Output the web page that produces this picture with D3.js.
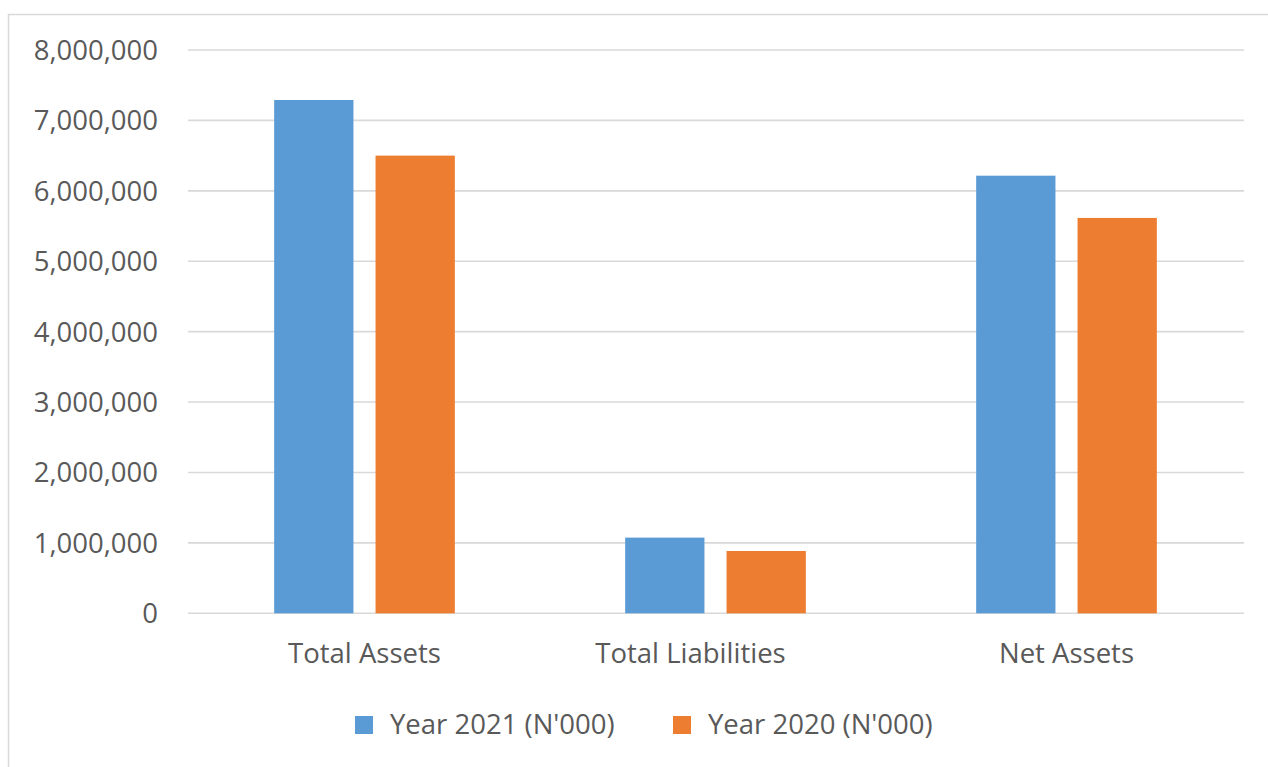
<!DOCTYPE html>
<html>
<head>
<meta charset="utf-8">
<script src="https://cdn.jsdelivr.net/npm/d3@7"></script>
<style>
  html, body { margin: 0; padding: 0; background: #fff; }
  svg { display: block; }
  text { font-family: "Open Sans", sans-serif; fill: #595959; white-space: pre; }
</style>
</head>
<body>
<svg id="chart" width="1268" height="767"></svg>
<script>
// the liabilities label sits left of its bars in the source, as if the cell had trailing blanks
const categories = ["Total Assets", "Total Liabilities       ", "Net Assets"]
const seriesNames = ["Year 2021 (N'000)", "Year 2020 (N'000)"]
const values2021 = [7290000, 1075000, 6215000]
const values2020 = [6500000, 885000, 5615000]
const yTicks = [0, 1000000, 2000000, 3000000, 4000000, 5000000, 6000000, 7000000, 8000000]

const colors = ["#5B9BD5", "#ED7D31"]
const width = 1268
const height = 767

const svg = d3.select("#chart")

// outer chart frame (only top and left edges are visible in the picture)
svg.append("path")
  .attr("d", `M8.5,${height} V14.5 H${width}`)
  .attr("fill", "none")
  .attr("stroke", "#d9d9d9")
  .attr("stroke-width", 1.5)

const gridLeft = 188
const gridRight = 1244

const y = d3.scaleLinear()
  .domain([0, 8000000])
  .range([613.3, 50])

const x0 = d3.scaleBand()
  .domain(categories)
  .range([189, 1242])
  .padding(0)

const x1 = d3.scaleBand()
  .domain(seriesNames)
  .range([0, x0.bandwidth()])
  .paddingInner(0.218)
  .paddingOuter(0.84)

// gridlines
svg.append("g")
  .selectAll("line")
  .data(yTicks)
  .join("line")
  .attr("x1", gridLeft)
  .attr("x2", gridRight)
  .attr("y1", (d) => y(d))
  .attr("y2", (d) => y(d))
  .attr("stroke", "#d9d9d9")
  .attr("stroke-width", 1.6)

// y axis labels
const fmt = d3.format(",")
svg.append("g")
  .selectAll("text")
  .data(yTicks)
  .join("text")
  .attr("x", 158)
  .attr("y", (d) => y(d))
  .attr("dy", "0.36em")
  .attr("text-anchor", "end")
  .attr("font-size", 27.5)
  .text((d) => fmt(d))

// bars
const rows = categories.map((c, i) => ({
  category: c,
  values: [values2021[i], values2020[i]],
}))

const group = svg.append("g")
  .selectAll("g")
  .data(rows)
  .join("g")
  .attr("transform", (d) => `translate(${x0(d.category)},0)`)

group.selectAll("rect")
  .data((d) => d.values.map((v, j) => ({ name: seriesNames[j], value: v, j })))
  .join("rect")
  .attr("x", (d) => x1(d.name))
  .attr("width", x1.bandwidth())
  .attr("y", (d) => y(d.value))
  .attr("height", (d) => y(0) - y(d.value))
  .attr("fill", (d) => colors[d.j])

// category labels
svg.append("g")
  .selectAll("text")
  .data(categories)
  .join("text")
  .attr("x", (d) => x0(d) + x0.bandwidth() / 2)
  .attr("y", 663)
  .attr("text-anchor", "middle")
  .attr("font-size", 27.5)
  .text((d) => d)

// legend
const legendX = [355, 673]
const legend = svg.append("g")
  .selectAll("g")
  .data(seriesNames)
  .join("g")
  .attr("transform", (d, i) => `translate(${legendX[i]},716)`)

legend.append("rect")
  .attr("width", 18)
  .attr("height", 18)
  .attr("fill", (d, i) => colors[i])

legend.append("text")
  .attr("x", 35)
  .attr("y", 17.5)
  .attr("font-size", 27.5)
  .text((d) => d)
</script>
</body>
</html>
